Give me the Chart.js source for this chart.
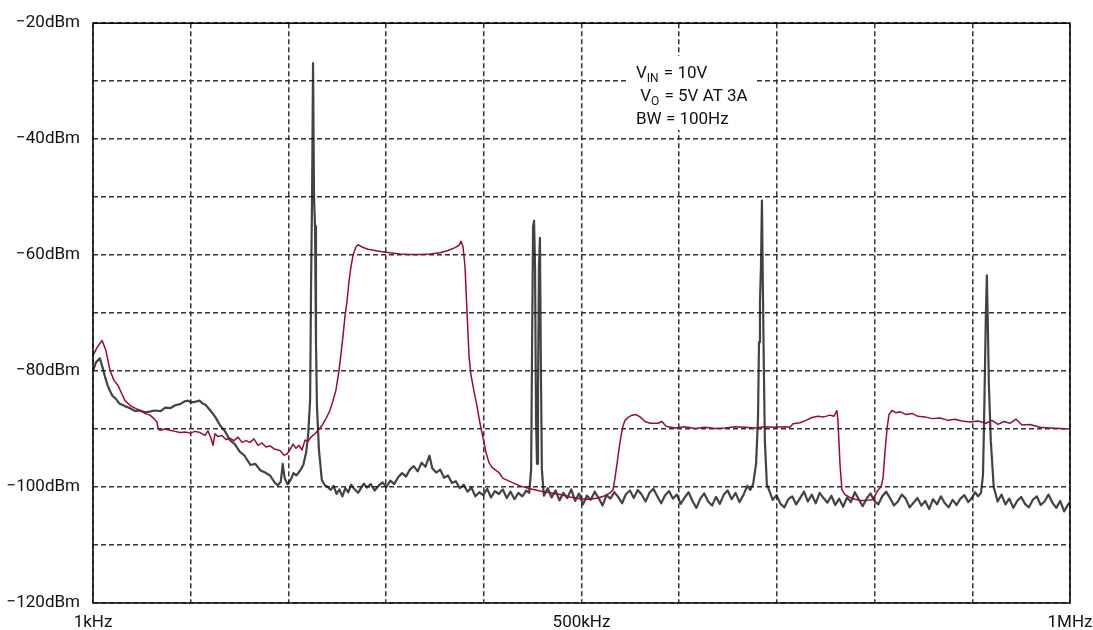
<!DOCTYPE html>
<html>
<head>
<meta charset="utf-8">
<script src="https://cdn.jsdelivr.net/npm/chart.js@4.4.1/dist/chart.umd.min.js"></script>
<style>
  html, body { margin: 0; padding: 0; background: #fff; }
  #wrap { width: 1093px; height: 630px; position: relative; }
</style>
</head>
<body>
<div id="wrap"><canvas id="spectrumChart"></canvas></div>
<script>
// frequencies in kHz, levels in dBm
const noiseFreq = [1, 4, 8, 11, 13, 16, 18, 21, 24, 28, 33, 39, 44, 49, 54, 59, 64, 70, 75, 80, 85, 90, 95, 98,
  102, 105, 110, 113, 116, 121, 126, 131, 136, 141, 146, 151, 156, 162, 167, 172, 177, 182, 187, 190, 193, 195,
  197, 200, 203, 206, 209, 213, 216, 219, 221, 223, 224, 225, 226, 227, 228, 229, 230, 232, 235, 238, 241, 244,
  247, 250, 253, 256, 259, 262, 265, 268, 272, 275, 278, 281, 285, 289, 293, 297, 301, 305, 309, 313, 317, 321,
  325, 329, 333, 337, 341, 345, 348, 352, 356, 360, 364, 368, 372, 376, 380, 384, 388, 392, 396, 400, 404, 408,
  412, 416, 420, 424, 428, 432, 436, 440, 444, 447, 449, 450, 451, 452, 453, 454, 455, 456, 457, 458, 459, 460,
  462, 466, 470, 474, 478, 482, 486, 490, 494, 498, 502, 506, 510, 514, 518, 522, 526, 530, 534, 538, 542, 546,
  550, 554, 558, 562, 566, 570, 574, 578, 582, 586, 590, 594, 598, 602, 606, 610, 614, 618, 622, 626, 630, 634,
  638, 642, 646, 650, 654, 658, 662, 666, 670, 673, 676, 679, 681, 682, 683, 684, 685, 686, 687, 688, 690, 692,
  696, 700, 704, 708, 712, 716, 720, 724, 728, 732, 736, 740, 744, 748, 752, 756, 760, 764, 768, 772, 776, 780,
  784, 788, 792, 796, 800, 804, 808, 812, 816, 820, 824, 828, 832, 836, 840, 844, 848, 852, 856, 860, 864, 868,
  872, 876, 880, 884, 888, 892, 896, 900, 903, 906, 909, 911, 912, 913, 914, 915, 916, 917, 919, 922, 926, 930,
  934, 938, 942, 946, 950, 954, 958, 962, 966, 970, 974, 978, 982, 986, 990, 994, 998, 1000];
const noiseLevel = [-80.0, -78.5, -77.8, -79.5, -80.8, -82.5, -83.3, -84.3, -84.7, -85.6, -86.0, -86.4, -86.9,
  -86.8, -87.1, -87.0, -86.8, -86.9, -86.3, -86.4, -85.9, -85.7, -85.2, -85.1, -85.4, -85.3, -85.1, -85.6,
  -85.8, -86.8, -87.9, -89.4, -90.4, -91.9, -92.6, -93.9, -94.6, -96.2, -96.0, -97.1, -97.5, -98.0, -99.3,
  -99.7, -99.1, -96.0, -98.5, -99.5, -98.8, -97.6, -98.0, -97.1, -96.2, -94.0, -91.0, -85.0, -65.0, -49.8,
  -26.9, -49.8, -55.0, -75.0, -86.0, -93.5, -98.8, -99.7, -100.0, -100.5, -99.8, -101.2, -100.4, -101.6,
  -100.2, -100.9, -99.6, -100.3, -101.0, -100.2, -99.4, -100.1, -99.5, -100.6, -99.8, -99.2, -100.0, -98.9,
  -99.5, -98.3, -97.6, -98.2, -97.0, -96.4, -97.3, -95.8, -96.5, -94.6, -96.8, -97.5, -97.0, -98.4, -98.0,
  -99.3, -99.0, -100.2, -99.6, -100.8, -100.1, -101.6, -100.9, -101.4, -100.3, -101.8, -100.7, -101.2,
  -100.4, -101.9, -100.8, -102.1, -101.0, -101.6, -100.6, -101.0, -97.0, -75.0, -55.0, -54.1, -62.0, -88.0,
  -96.0, -84.0, -62.0, -57.0, -80.0, -97.0, -101.5, -100.2, -101.8, -100.6, -102.3, -101.0, -101.9, -100.4,
  -102.4, -101.1, -103.0, -101.5, -102.2, -100.8, -101.9, -103.2, -101.4, -102.0, -100.9, -101.7, -102.8,
  -101.2, -100.6, -101.9, -100.5, -101.3, -102.5, -101.0, -100.3, -101.6, -102.8, -101.4, -100.7, -102.0,
  -101.3, -102.9, -101.8, -100.9, -102.4, -103.6, -102.0, -101.1, -102.5, -103.2, -101.7, -102.9, -101.3,
  -100.6, -102.1, -101.0, -102.6, -101.4, -99.8, -100.5, -99.5, -96.0, -88.0, -75.0, -68.0, -62.0, -50.6,
  -66.0, -80.0, -92.0, -99.5, -100.4, -102.2, -101.4, -102.9, -103.5, -102.1, -101.6, -103.0, -101.9, -100.8,
  -102.5, -101.3, -102.8, -101.0, -101.9, -102.7, -101.5, -103.1, -102.0, -103.4, -101.8, -102.6, -100.9,
  -102.1, -103.3, -102.0, -101.1, -102.4, -103.0, -101.6, -100.8, -101.9, -103.2, -102.5, -101.3, -102.0,
  -103.5, -102.7, -101.9, -103.2, -102.4, -103.8, -102.1, -103.0, -101.6, -102.8, -103.5, -102.2, -103.1,
  -102.0, -101.4, -102.6, -101.8, -100.9, -101.6, -101.0, -98.0, -90.0, -80.0, -70.0, -63.5, -72.0, -82.0,
  -92.0, -100.0, -102.5, -101.3, -103.0, -102.0, -103.6, -102.4, -101.7, -102.9, -103.5, -102.2, -101.6,
  -103.1, -102.5, -101.3, -102.7, -103.6, -102.4, -104.2, -103.0, -102.6, -103.4];

const filteredFreq = [1, 5, 10.2, 14.3, 18.4, 22.5, 26.6, 30.7, 33.7, 38.8, 43.9, 49.1, 54.2, 59.3, 63.4, 66.4,
  67.5, 69.5, 74.6, 79.7, 84.8, 90, 95.1, 100.2, 105.3, 110.4, 115.5, 118.5, 121.6, 123.7, 125.7, 128.8, 132.9,
  137, 141.1, 145.2, 149.3, 153.4, 157.4, 161.5, 165.6, 169.7, 173.8, 177.9, 182, 187.1, 192.2, 196.3, 199.4,
  202.4, 205.5, 208.6, 211.6, 214.7, 217.8, 220.8, 223.9, 228, 231.1, 235.2, 239.2, 243.3, 246.4, 249.4, 252.5,
  254.6, 256.6, 258.7, 260.7, 262.8, 264.8, 266.9, 269.9, 272, 276.1, 282.2, 289.4, 296.5, 304.7, 314.9, 325.1,
  335.4, 345.6, 355.8, 364, 371.2, 375.3, 377.3, 379.4, 381.4, 383.5, 385.5, 387.6, 390.6, 393.6, 396.7, 399.8,
  402.8, 405.9, 409, 412, 416.1, 420.2, 424.3, 429.4, 437.6, 447.8, 458.1, 468.3, 478.5, 488.7, 499, 509.2,
  517.4, 524.5, 529.6, 532.7, 534.7, 536.8, 538.8, 540.9, 542.9, 545, 548.1, 552.2, 556.3, 560.3, 565.5, 570.6,
  578.7, 582.8, 586.9, 596.1, 606.3, 616.5, 626.8, 637, 647.2, 657.4, 667.7, 677.9, 688.1, 698.3, 708.6, 713.7,
  716.7, 723.9, 730, 736.2, 742.3, 748.4, 754.6, 758.6, 761.7, 762.7, 764.8, 766.8, 769.9, 775, 780.1, 785.3,
  792.4, 797.5, 800.6, 803.7, 806.7, 808.8, 810.8, 812.9, 814.9, 818, 822.1, 826.2, 832.3, 838.5, 844.6, 851.8,
  858.9, 867.1, 875.3, 882.4, 889.6, 897.8, 905.9, 914.1, 920.2, 926.4, 932.5, 938.6, 944.8, 950.9, 959.1,
  969.3, 979.5, 989.8, 1000];
const filteredLevel = [-77.3, -76.0, -74.7, -76.5, -79.9, -81.6, -82.5, -84.0, -85.1, -85.9, -86.4, -86.8, -87.3,
  -87.6, -88.2, -88.8, -89.8, -90.2, -90.0, -90.2, -90.4, -90.6, -90.5, -90.7, -90.4, -90.6, -91.1, -90.3,
  -91.6, -92.8, -90.8, -91.3, -91.1, -91.8, -91.6, -92.0, -91.4, -92.3, -92.0, -92.3, -91.7, -92.8, -92.4,
  -93.1, -92.9, -93.5, -93.7, -94.5, -94.3, -93.6, -92.6, -93.3, -92.8, -93.6, -91.9, -92.1, -91.4, -90.8,
  -90.2, -89.4, -88.2, -86.8, -85.1, -83.3, -80.0, -77.0, -74.0, -70.5, -68.0, -64.5, -62.0, -60.0, -58.6,
  -58.2, -58.6, -59.0, -59.2, -59.4, -59.6, -59.8, -59.9, -59.9, -59.8, -59.6, -59.2, -58.7, -58.3, -57.6,
  -58.6, -62.0, -70.0, -77.5, -80.8, -83.5, -86.0, -89.0, -91.5, -94.0, -95.8, -96.6, -97.0, -97.5, -98.5,
  -98.8, -99.2, -99.8, -100.3, -100.7, -101.0, -101.3, -101.7, -102.0, -102.1, -101.9, -101.5, -101.0, -100.5,
  -98.5, -96.0, -93.5, -91.2, -89.5, -88.5, -88.0, -87.6, -87.5, -87.9, -88.7, -89.0, -89.0, -88.7, -89.5,
  -89.8, -89.6, -89.9, -89.7, -89.9, -89.8, -89.6, -89.7, -89.8, -89.6, -89.7, -89.6, -89.7, -89.1, -88.9,
  -88.5, -88.0, -87.8, -87.9, -87.6, -87.8, -86.8, -88.5, -96.0, -100.5, -101.3, -101.8, -102.1, -102.3,
  -102.3, -102.2, -101.5, -100.5, -100.0, -98.5, -94.0, -90.0, -87.5, -86.8, -87.2, -87.0, -87.5, -87.3,
  -87.8, -87.9, -88.2, -88.1, -88.5, -88.3, -88.6, -88.8, -88.6, -89.0, -88.5, -89.2, -88.7, -89.0, -88.3,
  -89.3, -89.2, -89.7, -89.8, -89.9, -90.0];

const xTickValues = [1, 100.9, 200.8, 300.7, 400.6, 500.5, 600.4, 700.3, 800.2, 900.1, 1000];
const xTickLabels = ['1kHz', '', '', '', '', '500kHz', '', '', '', '', '1MHz'];
const yTickLabels = { '-20': '\u221220dBm', '-40': '\u221240dBm', '-60': '\u221260dBm', '-80': '\u221280dBm',
  '-100': '\u2212100dBm', '-120': '\u2212120dBm' };
const noteLines = [['V', 'IN', ' = 10V'], [' V', 'O', ' = 5V AT 3A'], ['BW = 100Hz', '', '']];

const FONT = '"Liberation Sans Narrow", "Roboto", "Liberation Sans", sans-serif';

function toPoints(xs, ys) {
  return xs.map((x, i) => ({ x: x, y: ys[i] }));
}

// frame + note box
const decorPlugin = {
  id: 'decor',
  afterDraw(chart) {
    const { ctx, chartArea: a } = chart;
    ctx.save();
    ctx.strokeStyle = '#111';
    ctx.lineWidth = 1.6;
    ctx.strokeRect(a.left, a.top, a.right - a.left, a.bottom - a.top);

    ctx.fillStyle = '#fff';
    ctx.fillRect(628, 56, 127, 74);
    ctx.fillStyle = '#111';
    ctx.textBaseline = 'alphabetic';
    const baseY = [78, 101, 124];
    noteLines.forEach((parts, i) => {
      let x = 636;
      ctx.font = '17px ' + FONT;
      ctx.fillText(parts[0], x, baseY[i]);
      x += ctx.measureText(parts[0]).width;
      if (parts[1]) {
        ctx.font = '12px ' + FONT;
        ctx.fillText(parts[1], x, baseY[i] + 4);
        x += ctx.measureText(parts[1]).width + 1;
      }
      ctx.font = '17px ' + FONT;
      if (parts[2]) ctx.fillText(parts[2], x, baseY[i]);
    });
    ctx.restore();
  }
};

const ctx = document.getElementById('spectrumChart');

new Chart(ctx.getContext('2d'), {
  type: 'line',
  data: {
    datasets: [
      {
        label: 'Filtered',
        data: toPoints(filteredFreq, filteredLevel),
        borderColor: '#9b0b2e',
        borderWidth: 1.5,
        pointRadius: 0,
        tension: 0,
        borderJoinStyle: 'round'
      },
      {
        label: 'Unfiltered',
        data: toPoints(noiseFreq, noiseLevel),
        borderColor: 'rgba(20, 20, 20, 0.8)',
        borderWidth: 2.2,
        pointRadius: 0,
        tension: 0,
        borderJoinStyle: 'round'
      }
    ]
  },
  options: {
    responsive: true,
    maintainAspectRatio: false,
    animation: false,
    layout: { padding: { left: 0, right: 23, top: 22, bottom: 0 } },
    plugins: { legend: { display: false }, tooltip: { enabled: false } },
    scales: {
      x: {
        type: 'linear',
        min: 1,
        max: 1000,
        afterBuildTicks: (scale) => { scale.ticks = xTickValues.map(v => ({ value: v })); },
        afterFit: (scale) => {
          scale.height = 27;
          scale.paddingLeft = 0;
          scale.paddingRight = 0;
        },
        ticks: {
          autoSkip: false,
          maxRotation: 0,
          padding: 10,
          color: '#111',
          font: { family: FONT, size: 17 },
          callback: (v, i) => xTickLabels[i]
        },
        grid: { color: '#333', lineWidth: 1.5, drawTicks: false },
        border: { display: false, dash: [5, 3] }
      },
      y: {
        min: -120,
        max: -20,
        afterFit: (scale) => { scale.width = 93; },
        ticks: {
          stepSize: 10,
          padding: 13,
          color: '#111',
          font: { family: FONT, size: 17 },
          callback: (v) => yTickLabels[String(v)] || ''
        },
        grid: { color: '#333', lineWidth: 1.5, drawTicks: false },
        border: { display: false, dash: [5, 3] }
      }
    }
  },
  plugins: [decorPlugin]
});
</script>
</body>
</html>
